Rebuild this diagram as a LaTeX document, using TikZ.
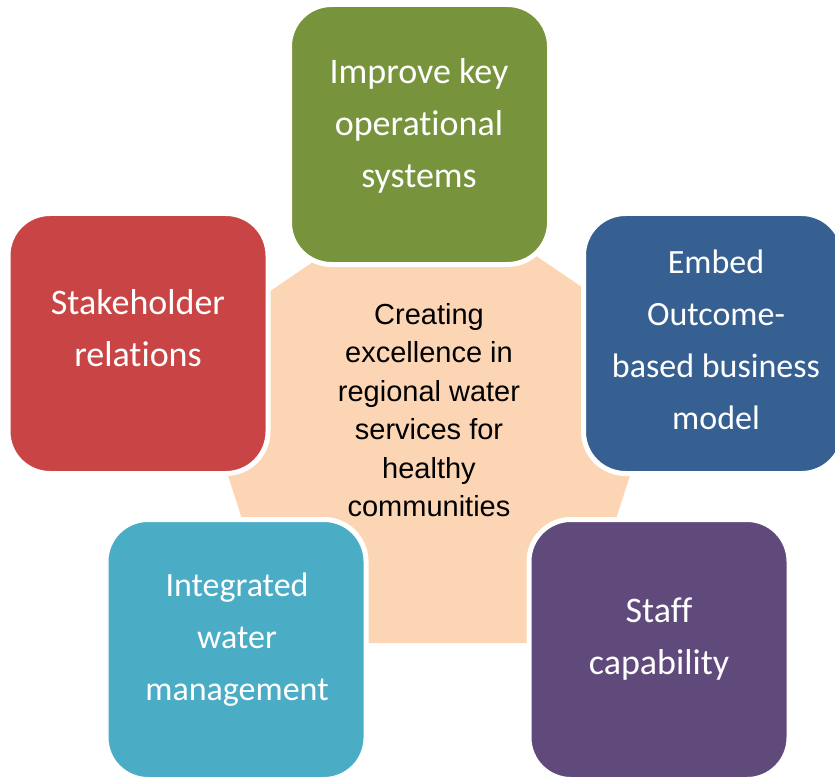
\documentclass[tikz,border=0pt]{standalone}
\usepackage{fontspec}
\setmainfont{Carlito}[Ligatures=NoCommon]
\newfontfamily\hubfont{Liberation Sans}

\definecolor{goalgreen}{HTML}{77933C}
\definecolor{goalred}{HTML}{C94545}
\definecolor{goalblue}{HTML}{376092}
\definecolor{goalteal}{HTML}{4BACC6}
\definecolor{goalpurple}{HTML}{604A7B}
\definecolor{hubpeach}{HTML}{FCD5B5}

\begin{document}
\begin{tikzpicture}[
    x=1pt, y=-1pt,
    goal box/.style={rectangle,rounded corners=42pt,minimum size=260pt,inner sep=0pt,draw=white,line width=5pt},
    goal text/.style={text=white,align=center,font=\fontsize{36}{52}\selectfont},
    small goal text/.style={goal text,font=\fontsize{34}{52}\selectfont},
    hub text/.style={align=center,font=\hubfont\fontsize{29}{38.5}\selectfont}
]

% Zeichenflaeche
\clip (0,0) rectangle (835,778);

% Siebeneck in der Mitte
\fill[hubpeach] (429,183) -- (642,328) -- (635,460) -- (576,643) -- (282,643) -- (223,460) -- (216,328) -- cycle;
\node[hub text] (hub) at (429,410) {Creating\\excellence in\\regional water\\services for\\healthy\\communities};

% Ziele rundherum
\node[goal box,fill=goalgreen] (improve box) at (419.5,134.5) {};
\node[goal text] (improve) at (419,125.5) {Improve key\\operational\\systems};

\node[goal box,fill=goalred] (stakeholder box) at (138,343.5) {};
\node[goal text] (stakeholder) at (138,328.5) {Stakeholder\\relations};

\node[goal box,fill=goalblue] (embed box) at (713.5,343.5) {};
\node[small goal text] (embed) at (716,339.5) {Embed\\Outcome-\\based business\\model};

\node[goal box,fill=goalteal] (water box) at (236,649.5) {};
\node[small goal text] (water) at (237,639.5) {Integrated\\water\\management};

\node[goal box,fill=goalpurple] (staff box) at (659,649.5) {};
\node[goal text] (staff) at (659,639) {Staff\\capability};

\end{tikzpicture}
\end{document}
